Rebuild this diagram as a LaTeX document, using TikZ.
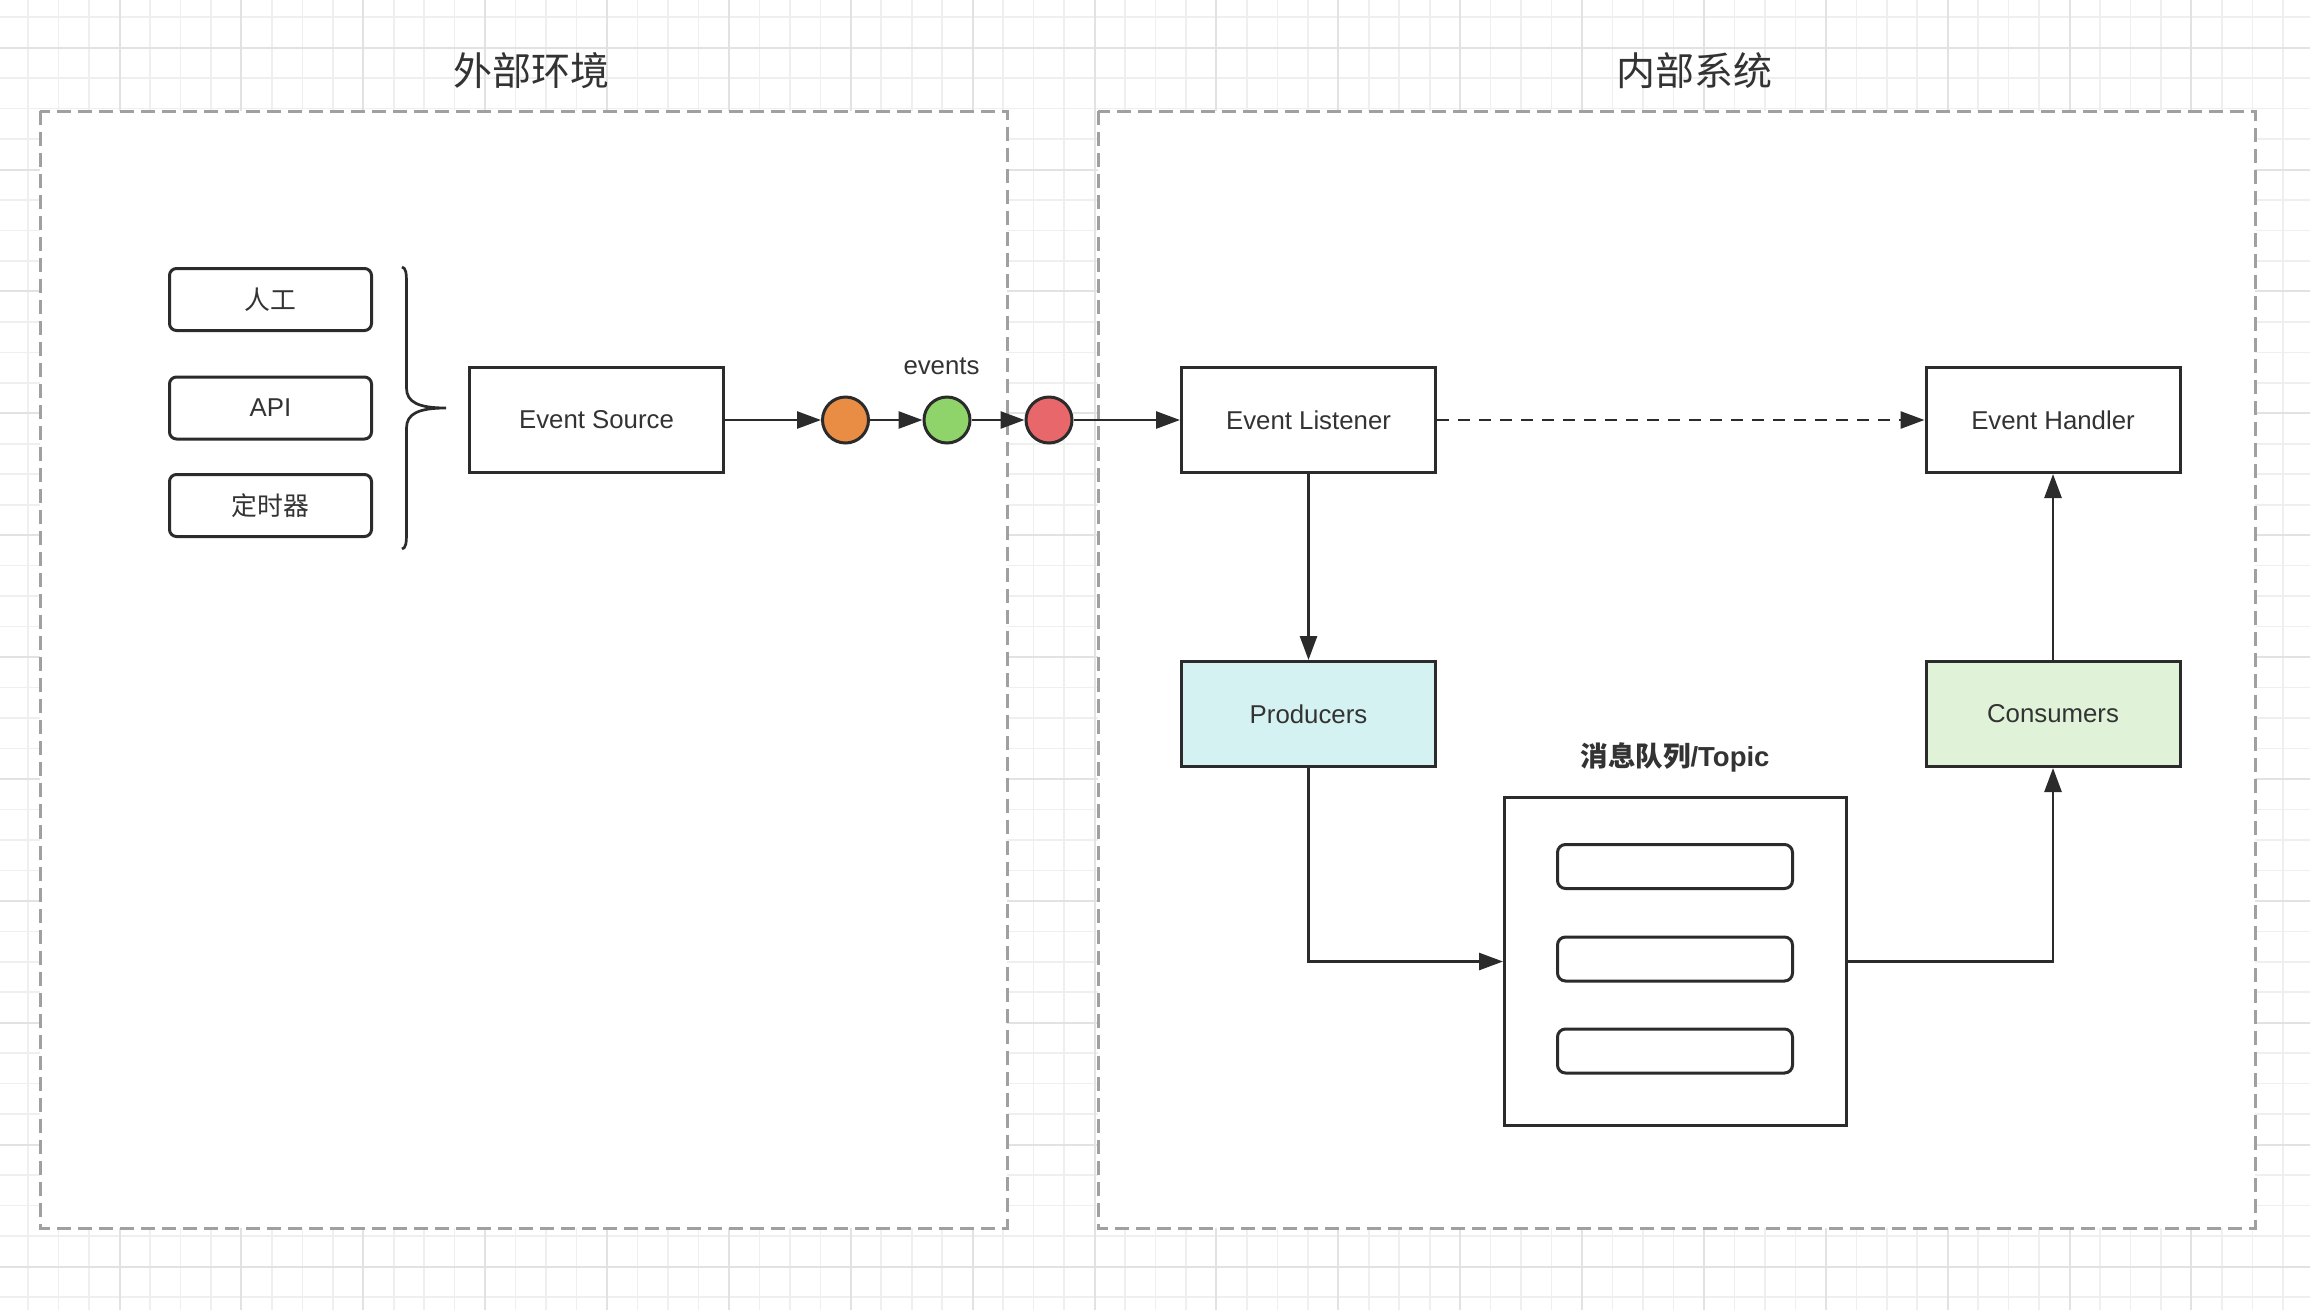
\documentclass[tikz,border=0pt]{standalone}
\usepackage{fontspec}
\setmainfont{Liberation Sans}
\newfontfamily\cjk{Noto Sans CJK SC}
\usetikzlibrary{arrows.meta}
\definecolor{ln}{HTML}{2B2B2B}
\definecolor{txt}{HTML}{333333}
\definecolor{gridmin}{HTML}{EFEFEF}
\definecolor{gridmaj}{HTML}{E2E2E2}
\definecolor{frame}{HTML}{A0A0A0}
\definecolor{corange}{HTML}{E98D45}
\definecolor{cgreen}{HTML}{8ED46A}
\definecolor{cred}{HTML}{E8676A}
\definecolor{prodfill}{HTML}{D5F2F2}
\definecolor{consfill}{HTML}{E0F3D8}
\begin{document}
\begin{tikzpicture}[x=1pt,y=-1pt,
  lbl/.style={font=\fontsize{25.8}{30}\selectfont, text=txt},
  box/.style={lbl, draw=ln, line width=3pt, minimum width=254pt, minimum height=105pt, inner sep=0pt},
  srcbox/.style={lbl, draw=ln, line width=3pt, rounded corners=7pt, minimum width=202pt, minimum height=62pt, inner sep=0pt},
  slot/.style={draw=ln, line width=3pt, rounded corners=8pt, minimum width=235pt, minimum height=44pt, inner sep=0pt},
  dot/.style={circle, draw=ln, line width=3pt, minimum size=46pt, inner sep=0pt},
  arr/.style={draw=ln, line width=2.7pt, -{Triangle[length=24pt,width=17pt]}},
  container/.style={draw=frame, fill=white, line width=3pt, dash pattern=on 14pt off 7pt},
  title/.style={font=\fontsize{39}{44}\selectfont\cjk, text=txt}
]
\useasboundingbox (0,0) rectangle (2310,1310);
\fill[white] (0,0) rectangle (2310,1310);
% grid
\foreach \i in {0,...,75} {
  \pgfmathsetmacro\xx{28.1+30.47*\i}
  \draw[gridmin, line width=1.6pt] (\xx,0) -- (\xx,1310);
}
\foreach \j in {0,...,42} {
  \pgfmathsetmacro\yy{17.2+30.47*\j}
  \draw[gridmin, line width=1.6pt] (0,\yy) -- (2310,\yy);
}
\foreach \k in {0,...,18} {
  \pgfmathsetmacro\xx{119.5+121.88*\k}
  \draw[gridmaj, line width=2pt] (\xx,0) -- (\xx,1310);
}
\foreach \k in {0,...,10} {
  \pgfmathsetmacro\yy{47.7+121.88*\k}
  \draw[gridmaj, line width=2pt] (0,\yy) -- (2310,\yy);
}
% containers
\draw[container] (40,111) rectangle (1007,1228);
\draw[container] (1098,111) rectangle (2255,1228);
\node[title] (t1) at (531,71) {外部环境};
\node[title] (t2) at (1694.5,71) {内部系统};

% sources
\node[srcbox] (ren) at (270.5,299.5) {\cjk 人工};
\node[srcbox] (api) at (270.5,408) {API};
\node[srcbox] (timer) at (270.5,505.5) {\cjk 定时器};
% brace
\draw[ln, line width=2.7pt] (402,267) .. controls (406,268) and (406.5,273) .. (406.5,284) -- (406.5,388)
  .. controls (406.5,402) and (418,408) .. (446,408)
  .. controls (418,408) and (406.5,414) .. (406.5,428) -- (406.5,532)
  .. controls (406.5,543) and (406,548) .. (402,549);

\node[box] (src) at (596.5,420) {Event Source};
\node[dot, fill=corange] (c1) at (845.5,420) {};
\node[dot, fill=cgreen] (c2) at (947,420) {};
\node[dot, fill=cred] (c3) at (1049,420) {};
\node[lbl] (ev) at (941.5,366) {events};

\node[box] (lis) at (1308.5,420) {Event Listener};
\node[box] (hdl) at (2053,420) {Event Handler};
\node[box, fill=prodfill] (prod) at (1308.5,714) {Producers};
\node[box, fill=consfill] (cons) at (2053,714) {Consumers};

\node[draw=ln, line width=3pt, minimum width=342pt, minimum height=328pt, inner sep=0pt] (queue) at (1675.5,961.5) {};
\node[slot] (q1) at (1675,866.5) {};
\node[slot] (q2) at (1675,959) {};
\node[slot] (q3) at (1675,1051) {};
\node[font=\fontsize{27.5}{32}\selectfont\bfseries, text=txt] (qt) at (1675,757) {{\cjk 消息队列}/Topic};

% connectors
\draw[arr] (src.east) -- (c1.west);
\draw[arr] (c1.east) -- (c2.west);
\draw[arr] (c2.east) -- (c3.west);
\draw[arr] (c3.east) -- (lis.west);
\draw[arr, dash pattern=on 12pt off 9pt] (lis.east) -- (hdl.west);
\draw[arr] (lis.south) -- (prod.north);
\draw[arr] (prod.south) |- (queue.west);
\draw[arr] (queue.east) -| (cons.south);
\draw[arr] (cons.north) -- (hdl.south);
\end{tikzpicture}
\end{document}
